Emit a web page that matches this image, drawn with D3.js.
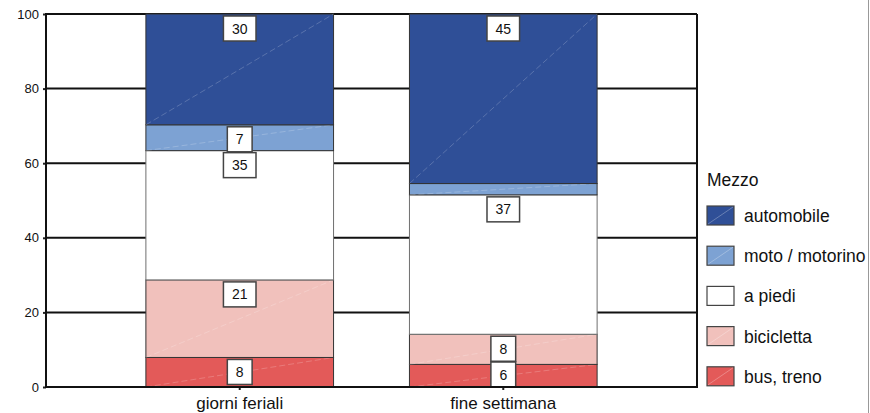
<!DOCTYPE html>
<html>
<head>
<meta charset="utf-8">
<script src="https://cdn.jsdelivr.net/npm/d3@7"></script>
<style>
  html, body { margin: 0; padding: 0; background: #fff; }
  svg { display: block; font-family: "Liberation Sans", Arial, sans-serif; }
</style>
</head>
<body>
<svg id="chart" width="870" height="413"></svg>
<script>
// Trip shares by means of transport, weekdays vs weekend
const categories = ["giorni feriali", "fine settimana"];
const modes = ["bus, treno", "bicicletta", "a piedi", "moto / motorino", "automobile"];
const busTreno = [8, 6];
const bicicletta = [21, 8];
const aPiedi = [35, 37];
const motoMotorino = [7, 3];
const automobile = [30, 45];
const yTicks = [0, 20, 40, 60, 80, 100];
const legendTitle = "Mezzo";
const modeColors = ["#e35a59", "#f1c1bc", "#ffffff", "#7da2d3", "#2f4f97"];

const seriesByMode = {
  "bus, treno": busTreno,
  "bicicletta": bicicletta,
  "a piedi": aPiedi,
  "moto / motorino": motoMotorino,
  "automobile": automobile
};

const rows = categories.map((c, i) => {
  const r = { category: c };
  modes.forEach(m => { r[m] = seriesByMode[m][i]; });
  return r;
});

const svg = d3.select("#chart");
const W = 870, H = 413;
const plot = { left: 46, right: 697, top: 14, bottom: 387 };

const x = d3.scaleBand()
  .domain(categories)
  .range([plot.left, plot.right])
  .paddingInner(0.288)
  .paddingOuter(0.379);

const y = d3.scaleLinear().domain([0, 100]).range([plot.bottom, plot.top]);

const color = d3.scaleOrdinal().domain(modes).range(modeColors);

// each column is normalised to 100 %
const stacked = d3.stack().keys(modes).offset(d3.stackOffsetExpand)(rows);

svg.append("rect").attr("width", W).attr("height", H).attr("fill", "#fff");

// horizontal grid lines
svg.append("g")
  .selectAll("line")
  .data(yTicks)
  .join("line")
  .attr("x1", plot.left).attr("x2", plot.right)
  .attr("y1", d => y(d)).attr("y2", d => y(d))
  .attr("stroke", "#111").attr("stroke-width", 2);

// right frame
svg.append("line")
  .attr("x1", plot.right).attr("x2", plot.right)
  .attr("y1", plot.top).attr("y2", plot.bottom)
  .attr("stroke", "#111").attr("stroke-width", 2);

// stacked segments
const layers = svg.append("g").selectAll("g")
  .data(stacked)
  .join("g")
  .attr("fill", d => color(d.key));

layers.selectAll("rect")
  .data(d => d.map(v => ({ key: d.key, cat: v.data.category, y0: v[0] * 100, y1: v[1] * 100 })))
  .join("rect")
  .attr("x", d => x(d.cat))
  .attr("width", x.bandwidth())
  .attr("y", d => y(d.y1))
  .attr("height", d => y(d.y0) - y(d.y1))
  .attr("stroke", d => d.key === "a piedi" ? "#6f6f6f" : "#333")
  .attr("stroke-width", 1);

// faint diagonal sheen across coloured segments
layers.filter(d => d.key !== "a piedi").selectAll("line")
  .data(d => d.map(v => ({ cat: v.data.category, y0: v[0] * 100, y1: v[1] * 100 })))
  .join("line")
  .attr("x1", d => x(d.cat)).attr("y1", d => y(d.y0))
  .attr("x2", d => x(d.cat) + x.bandwidth()).attr("y2", d => y(d.y1))
  .attr("stroke", "#fff").attr("stroke-opacity", 0.25).attr("stroke-width", 0.8)
  .attr("stroke-dasharray", "6,3");

// value labels in boxes at the top of each segment
const boxH = 25;
const labelData = [];
stacked.forEach(layer => {
  layer.forEach((v, i) => {
    const value = seriesByMode[layer.key][i];
    if (value >= 5) {
      labelData.push({ value, cat: v.data.category, top: v[1] * 100 });
    }
  });
});

const labels = svg.append("g").selectAll("g")
  .data(labelData)
  .join("g")
  .attr("transform", d => {
    const top = Math.min(y(d.top) + 2, plot.bottom - boxH);
    return `translate(${x(d.cat) + x.bandwidth() / 2},${top})`;
  });

labels.append("text")
  .attr("text-anchor", "middle")
  .attr("y", 17.5)
  .attr("font-size", 14)
  .attr("fill", "#111")
  .text(d => d.value);

labels.each(function () {
  const g = d3.select(this);
  const w = g.select("text").node().getComputedTextLength() + 17;
  g.insert("rect", "text")
    .attr("x", -w / 2).attr("y", 0)
    .attr("width", w).attr("height", boxH)
    .attr("fill", "#fff")
    .attr("stroke", "#444").attr("stroke-width", 1.5);
});

// left axis
const yAxis = svg.append("g")
  .attr("transform", `translate(${plot.left},0)`)
  .call(d3.axisLeft(y).tickValues(yTicks).tickSize(3).tickPadding(4));
yAxis.select(".domain").remove();
yAxis.selectAll(".tick line").attr("stroke", "#222").attr("stroke-width", 2);
yAxis.selectAll(".tick text").attr("font-size", 13).attr("fill", "#111")
  .attr("font-family", "'Liberation Sans', Arial, sans-serif");
svg.append("line")
  .attr("x1", plot.left).attr("x2", plot.left)
  .attr("y1", plot.top - 1).attr("y2", plot.bottom + 1)
  .attr("stroke", "#111").attr("stroke-width", 2);

// bottom axis
const xAxis = svg.append("g")
  .attr("transform", `translate(0,${plot.bottom})`)
  .call(d3.axisBottom(x).tickSize(3).tickPadding(7));
xAxis.select(".domain").remove();
xAxis.selectAll(".tick line").attr("stroke", "#222").attr("stroke-width", 2);
xAxis.selectAll(".tick text").attr("font-size", 17).attr("fill", "#111")
  .attr("font-family", "'Liberation Sans', Arial, sans-serif");
svg.append("line")
  .attr("x1", plot.left - 1).attr("x2", plot.right + 1)
  .attr("y1", plot.bottom).attr("y2", plot.bottom)
  .attr("stroke", "#111").attr("stroke-width", 2);

// legend
const legend = svg.append("g").attr("transform", "translate(707,0)");
legend.append("text")
  .attr("x", 0).attr("y", 186)
  .attr("font-size", 17.5).attr("fill", "#111")
  .text(legendTitle);

const legendItems = legend.selectAll("g.item")
  .data(modes.slice().reverse())
  .join("g")
  .attr("class", "item")
  .attr("transform", (d, i) => `translate(0,${206 + i * 40.2})`);

legendItems.append("rect")
  .attr("width", 27).attr("height", 19)
  .attr("fill", d => color(d))
  .attr("stroke", "#444").attr("stroke-width", 1.2);

legendItems.filter(d => d !== "a piedi").append("line")
  .attr("x1", 1).attr("y1", 18).attr("x2", 26).attr("y2", 1)
  .attr("stroke", "#fff").attr("stroke-opacity", 0.35).attr("stroke-width", 0.8);

legendItems.append("text")
  .attr("x", 37).attr("y", 16)
  .attr("font-size", 17.5).attr("fill", "#111")
  .text(d => d);

// outer border on the right
svg.append("line")
  .attr("x1", 868.5).attr("x2", 868.5)
  .attr("y1", 0).attr("y2", H)
  .attr("stroke", "#999").attr("stroke-width", 1);
</script>
</body>
</html>
